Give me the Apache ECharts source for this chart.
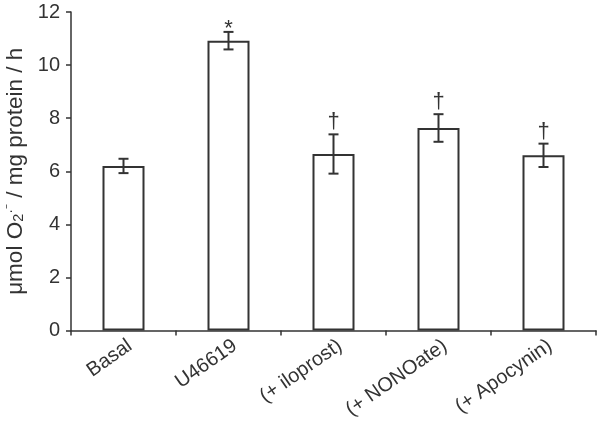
<!DOCTYPE html>
<html><head><meta charset="utf-8">
<script src="https://cdn.jsdelivr.net/npm/echarts@6/dist/echarts.min.js"></script>
<style>html,body{margin:0;padding:0;background:#fff}#c{width:600px;height:428px}</style>
</head><body><div id="c"></div>
<script>
const categories = ['Basal', 'U46619', '(+ iloprost)', '(+ NONOate)', '(+ Apocynin)'];
const means = [6.2, 10.92, 6.65, 7.63, 6.6];
const errors = [0.27, 0.33, 0.74, 0.52, 0.44];
const marks = ['', '*', '†', '†', '†'];
const yTicks = [0, 2, 4, 6, 8, 10, 12];

const chart = echarts.init(document.getElementById('c'));
const lineColor = '#333333';
const textColor = '#333333';
const font = 'Liberation Sans, Arial, sans-serif';

chart.setOption({
  animation: false,
  grid: {left: 71, right: 4, top: 12, bottom: 97.5, containLabel: false, outerBoundsMode: 'none'},
  xAxis: {
    type: 'category', data: categories,
    axisLine: {lineStyle: {color: lineColor, width: 1.5}},
    axisTick: {show: true, length: 5, alignWithLabel: false, lineStyle: {color: lineColor, width: 1.5}},
    axisLabel: {rotate: 35, color: textColor, fontSize: 20, fontFamily: font, margin: 18, interval: 0,
      padding: [0, -8, 0, 0]}
  },
  yAxis: {
    type: 'value', min: yTicks[0], max: yTicks[yTicks.length - 1], interval: 2,
    splitLine: {show: false},
    axisLine: {show: true, lineStyle: {color: lineColor, width: 1.5}},
    axisTick: {show: true, length: 5, lineStyle: {color: lineColor, width: 1.5}},
    axisLabel: {color: textColor, fontSize: 20, fontFamily: font, margin: 11},
    name: '{n|μmol O}{sub|2}{sup|·⁻}{n| / mg protein / h}',
    nameLocation: 'middle', nameRotate: 90, nameGap: 42,
    nameTextStyle: {
      color: textColor, fontFamily: font,
      rich: {
        n: {fontSize: 22.5, fontFamily: font, color: textColor},
        sub: {fontSize: 14.5, fontFamily: font, color: textColor, verticalAlign: 'bottom', padding: [8, 0, 0, 0]},
        sup: {fontSize: 14.5, fontFamily: font, color: textColor, verticalAlign: 'top', padding: [0, 0, 8, 0]}
      }
    }
  },
  series: [
    {
      type: 'bar', data: means, barWidth: '40%',
      itemStyle: {color: '#fff', borderColor: lineColor, borderWidth: 2}
    },
    {
      type: 'custom',
      data: means.map((m, i) => [i, m, errors[i]]),
      renderItem: function (params, api) {
        const i = api.value(0), m = api.value(1), e = api.value(2);
        const top = api.coord([i, m + e]);
        const bot = api.coord([i, m - e]);
        const cap = 5;
        const st = {stroke: lineColor, lineWidth: 2};
        const children = [
          {type: 'line', shape: {x1: top[0], y1: top[1], x2: bot[0], y2: bot[1]}, style: st},
          {type: 'line', shape: {x1: top[0] - cap, y1: top[1], x2: top[0] + cap, y2: top[1]}, style: st},
          {type: 'line', shape: {x1: bot[0] - cap, y1: bot[1], x2: bot[0] + cap, y2: bot[1]}, style: st}
        ];
        const mk = marks[params.dataIndex];
        if (mk) {
          const off = mk === '*' ? 3 : 12;
          children.push({type: 'text', x: top[0], y: top[1] - off,
            style: {text: mk, fill: textColor, font: '22px ' + font, textAlign: 'center', textVerticalAlign: 'middle'}});
        }
        return {type: 'group', children: children};
      },
      z: 5
    }
  ]
});
</script>
</body></html>
